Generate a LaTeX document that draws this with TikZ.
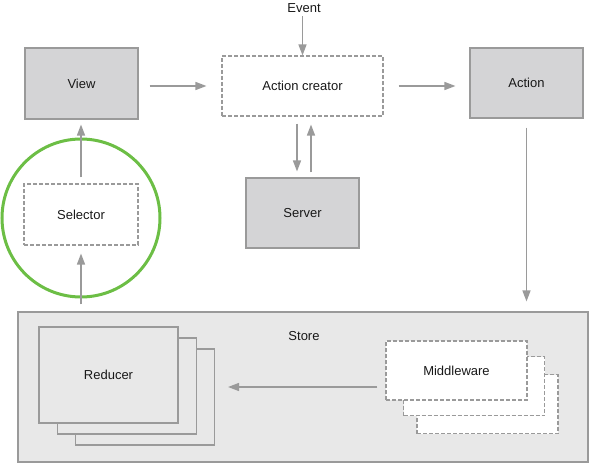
\documentclass[tikz,border=0pt]{standalone}
\usepackage{fontspec}
\setmainfont{Liberation Sans}
\usetikzlibrary{arrows.meta,calc}
\definecolor{boxfill}{HTML}{D4D4D6}
\definecolor{storefill}{HTML}{E8E8E8}
\definecolor{edge}{HTML}{9A9A9A}
\definecolor{ringgreen}{HTML}{6CBE45}
\begin{document}
\begin{tikzpicture}[x=1pt,y=-1pt,
  every node/.style={font=\fontsize{13}{15}\selectfont, text=black!90},
  solidbox/.style={draw=edge, line width=1.1pt, fill=boxfill, inner sep=0pt},
  dashbox/.style={draw=edge, line width=1.1pt, fill=white, dash pattern=on 4pt off 2pt, inner sep=0pt},
  stackbox/.style={draw=edge, line width=1.1pt, fill=storefill, inner sep=0pt},
  arr/.style={draw=edge, line width=1.4pt, -{Triangle[length=11pt,width=8pt]}}]
\useasboundingbox (0,0) rectangle (590,463);
% store
\node[stackbox, fill=storefill, minimum width=570pt, minimum height=150pt] (store) at (303,387) {};
\node (storelbl) at (304,336) {Store};
% reducer stack
\node[stackbox, minimum width=139pt, minimum height=96pt] (red3) at (145,397) {};
\node[stackbox, minimum width=139pt, minimum height=96pt] (red2) at (127,386) {};
\node[stackbox, minimum width=139pt, minimum height=96pt] (red1) at (108.5,375) {Reducer};
% middleware stack
\node[dashbox, minimum width=141pt, minimum height=59pt] (mw3) at (487.5,404) {};
\node[dashbox, minimum width=141pt, minimum height=59pt] (mw2) at (474,386) {};
\node[dashbox, minimum width=141pt, minimum height=59pt] (mw1) at (456.5,370.5) {Middleware};
% top row
\node[solidbox, minimum width=113pt, minimum height=71pt] (view) at (81.5,83.5) {View};
\node[dashbox, minimum width=161pt, minimum height=60pt] (ac) at (302.5,86) {Action creator};
\node[solidbox, minimum width=113pt, minimum height=70pt] (action) at (526.5,83) {Action};
\node[solidbox, minimum width=113pt, minimum height=70pt] (server) at (302.5,213) {Server};
\node[dashbox, minimum width=114pt, minimum height=61pt] (sel) at (81,214.5) {Selector};
\node (event) at (304,8) {Event};
% green ring
\draw[ringgreen, line width=3pt] (81,218) circle[radius=79];
% connectors
\coordinate (ry) at (0,387);
\draw[arr] (ac.north |- event.south) -- (ac.north);
\draw[arr, shorten <=11pt, shorten >=15pt] (view.east |- ac) -- (ac.west);
\draw[arr, shorten <=15pt, shorten >=14pt] (ac.east) -- (action.west |- ac);
\draw[arr, shorten <=9pt, shorten >=10pt] (action.south) -- (action.south |- store.north);
\draw[arr, shorten <=7pt, shorten >=6pt] ([xshift=-5.5pt]ac.south) -- ([xshift=-5.5pt]ac.south |- server.north);
\draw[arr, shorten <=5pt, shorten >=8pt] ([xshift=8.5pt]ac.south |- server.north) -- ([xshift=8.5pt]ac.south);
\draw[arr, shorten <=6pt, shorten >=5pt] (sel.north) -- (sel.north |- view.south);
\draw[arr, shorten <=7pt, shorten >=8pt] (sel.south |- store.north) -- (sel.south);
\draw[arr, shorten <=8pt, shorten >=13pt] (mw1.west |- ry) -- (red3.east |- ry);
\end{tikzpicture}
\end{document}
